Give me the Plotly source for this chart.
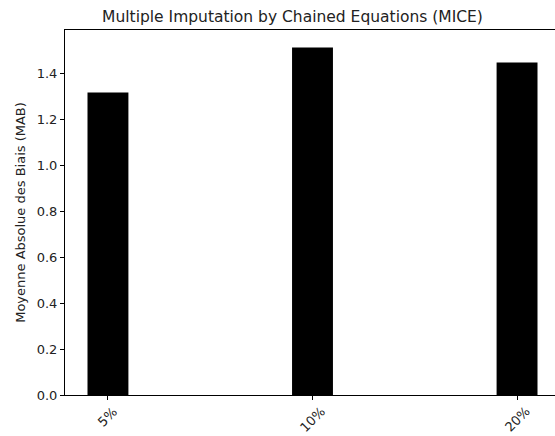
import plotly.graph_objects as go

categories = ["5%", "10%", "20%"]
mab_values = [1.316, 1.512, 1.446]
y_ticks = [0, 0.2, 0.4, 0.6, 0.8, 1.0, 1.2, 1.4]
y_tick_labels = ["0.0", "0.2", "0.4", "0.6", "0.8", "1.0", "1.2", "1.4"]

fig = go.Figure()
fig.add_trace(go.Bar(
    x=categories,
    y=mab_values,
    width=0.2,
    marker=dict(color="black", line=dict(width=0)),
    hoverinfo="skip",
))

font_family = "DejaVu Sans"
text_color = "#222"

# rotated category labels centred under their ticks (like matplotlib rotation=45)
for cat in categories:
    fig.add_annotation(
        x=cat, y=0, xref="x", yref="y",
        text=cat, showarrow=False, textangle=-45,
        xanchor="center", yanchor="top", yshift=-6,
        font=dict(family=font_family, size=13, color=text_color),
    )

# figure is slightly wider than the 555px window; the right spine falls outside it
FIG_W = 575
fig.update_layout(
    width=FIG_W,
    height=436,
    margin=dict(l=65, r=15, t=30, b=41, autoexpand=False),
    plot_bgcolor="white",
    paper_bgcolor="white",
    showlegend=False,
    font=dict(family=font_family, color=text_color, size=13),
    title=dict(
        text="Multiple Imputation by Chained Equations (MICE)",
        x=292.5 / FIG_W, xref="container", xanchor="center",
        y=1 - 17 / 436, yref="container", yanchor="middle",
        font=dict(family=font_family, size=15.5, color=text_color),
    ),
)
fig.update_xaxes(
    type="category",
    range=[-0.21, 2.21],
    showgrid=False, automargin=False, zeroline=False,
    showline=True, linecolor="black", linewidth=1, mirror=True,
    ticks="outside", ticklen=4, tickcolor="black",
    showticklabels=False,
)
fig.update_yaxes(
    range=[0, 1.512 * 1.05],
    tickvals=y_ticks,
    ticktext=y_tick_labels,
    showgrid=False, zeroline=False, automargin=False,
    showline=True, linecolor="black", linewidth=1, mirror=True,
    ticks="outside", ticklen=4, tickcolor="black",
    tickfont=dict(size=13),
    title=dict(text="Moyenne Absolue des Biais (MAB)", font=dict(size=13), standoff=8),
)

fig.write_html(
    "out.html",
    config={"displayModeBar": False, "staticPlot": True},
    post_script="document.body.style.margin='0';document.body.style.overflow='hidden';"
                "document.documentElement.style.overflow='hidden';",
)
